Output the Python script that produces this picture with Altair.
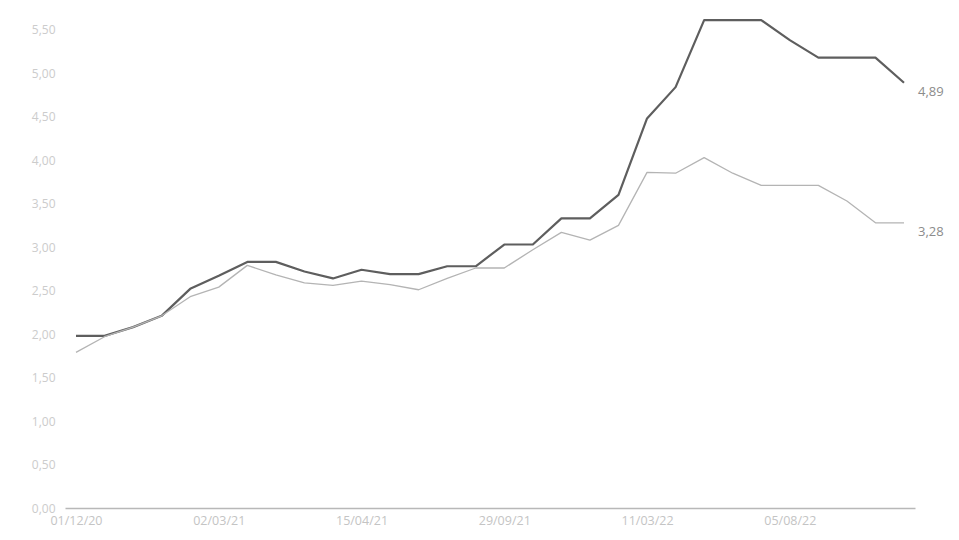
import altair as alt
import pandas as pd

dates = ["01/12/20","29/12/20","19/01/21","09/02/21","19/02/21","02/03/21","09/03/21",
         "20/03/21","24/03/21","01/04/21","15/04/21","01/05/21","06/07/21","12/08/21",
         "28/08/21","29/09/21","09/10/21","26/10/21","15/12/21","12/01/22","11/03/22",
         "10/05/22","18/06/22","20/07/22","29/07/22","05/08/22","12/08/22","16/08/22",
         "02/09/22","20/09/22"]
diesel = [1.98,1.98,2.08,2.21,2.52,2.67,2.83,2.83,2.72,2.64,2.74,2.69,2.69,2.78,2.78,
          3.03,3.03,3.33,3.33,3.60,4.48,4.84,5.61,5.61,5.61,5.38,5.18,5.18,5.18,4.89]
gasolina = [1.79,1.97,2.08,2.21,2.43,2.54,2.79,2.68,2.59,2.56,2.61,2.57,2.51,2.64,2.76,
            2.76,2.97,3.17,3.08,3.25,3.86,3.85,4.03,3.85,3.71,3.71,3.71,3.53,3.28,3.28]
series_names = ["Diesel", "Gasolina"]
series_colors = ["#5e5e5e", "#b4b4b4"]
label_dates = [dates[i] for i in range(0, len(dates), 5)]
y_ticks = [0, 0.5, 1, 1.5, 2, 2.5, 3, 3.5, 4, 4.5, 5, 5.5]

rows = []
for i, d in enumerate(dates):
    rows.append({"data": d, "serie": series_names[0], "valor": diesel[i], "idx": i})
    rows.append({"data": d, "serie": series_names[1], "valor": gasolina[i], "idx": i})
df = pd.DataFrame(rows)
last_idx = len(dates) - 1

x_enc = alt.X("data:O", sort=dates, title=None,
              scale=alt.Scale(type="point", padding=0.385),
              axis=alt.Axis(values=label_dates, labelAngle=0, ticks=False,
                            domainColor="#b8b8b8", domainWidth=1.5,
                            labelColor="#c4c4c4", labelFontSize=12.5,
                            labelPadding=6, labelFont="Open Sans"))
y_enc = alt.Y("valor:Q", title=None,
              scale=alt.Scale(domain=[0, 5.75], nice=False, zero=True),
              axis=alt.Axis(values=y_ticks, grid=False, domain=False, ticks=False,
                            labelColor="#cccccc", labelFontSize=12, labelPadding=10,
                            labelFont="Open Sans",
                            labelExpr="replace(format(datum.value, '.2f'), '.', ',')"))
color_enc = alt.Color("serie:N", legend=None,
                      scale=alt.Scale(domain=series_names, range=series_colors))

base = alt.Chart(df)

lines = base.mark_line(strokeJoin="round").encode(
    x=x_enc, y=y_enc, color=color_enc,
    strokeWidth=alt.StrokeWidth("serie:N", legend=None,
                                scale=alt.Scale(domain=series_names, range=[2.2, 1.3])),
)

labels = base.transform_filter(alt.datum.idx == last_idx).mark_text(
    align="left", dx=14, dy=9, fontSize=13, font="Open Sans", color="#8c8c8c"
).encode(
    x=x_enc, y=y_enc,
    text=alt.Text("label:N"),
).transform_calculate(label="replace(format(datum.valor, '.2f'), '.', ',')")

chart = alt.layer(lines, labels).properties(
    width=850, height=500,
    autosize=alt.AutoSizeParams(type="none"),
    padding={"left": 57, "top": 0, "right": 36, "bottom": 24},
    background="white",
).configure_view(stroke=None)

chart.save("out.html", embed_options={"renderer": "svg", "actions": False})
